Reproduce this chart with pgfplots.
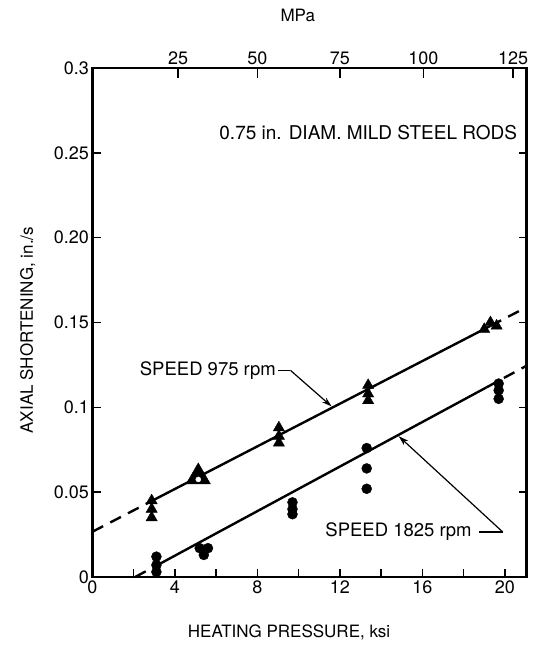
\documentclass[border=0pt]{standalone}
\usepackage{fontspec}
\setmainfont{TeX Gyre Heros}
\usepackage{pgfplots}
\pgfplotsset{compat=1.18}
\usetikzlibrary{arrows.meta}
\begin{document}
\begin{tikzpicture}
\pgfplotsset{every axis/.append style={scale only axis, width=434pt, height=509pt, xmin=0, xmax=21.05, ymin=0, ymax=0.3}}
\path[use as bounding box] (-92.5pt,-71pt) rectangle (440.5pt,577pt);
\begin{axis}[
  axis line style={line width=2.2pt},
  tick align=inside,
  major tick style={line width=1.5pt, black},
  minor tick style={line width=1.5pt, black},
  major tick length=8pt, minor tick length=8pt,
  xtick={0,4,8,12,16,20}, xticklabels={0,4,8,12,16,20},
  minor xtick={2,6,10,14,18},
  xtick pos=bottom,
  ytick={0,0.05,0.1,0.15,0.2,0.25,0.3},
  yticklabels={0,0.05,0.1,0.15,0.20,0.25,0.3},
  ytick pos=both,
  ticklabel style={font=\fontsize{18}{20}\selectfont},
  xlabel={HEATING PRESSURE, ksi},
  ylabel={AXIAL SHORTENING, in./s},
  label style={font=\fontsize{17}{20}\selectfont},
  xlabel style={at={(axis description cs:0.453,-0.108)}, anchor=center},
  ylabel style={at={(axis description cs:-0.149,0.485)}, anchor=center},
  clip=false,
]
% regression lines, 975 rpm
\addplot[black, line width=2.4pt, dash pattern=on 12pt off 8pt] coordinates {(0,0.0267) (2.87,0.0448)};
\addplot[black, line width=2.4pt] coordinates {(2.87,0.0448) (19.3,0.148)};
\addplot[black, line width=2.4pt, dash pattern=on 12pt off 8pt] coordinates {(19.3,0.148) (21.05,0.159)};
% regression lines, 1825 rpm
\addplot[black, line width=2.4pt, dash pattern=on 12pt off 8pt] coordinates {(2.07,0) (3.3,0.008)};
\addplot[black, line width=2.4pt] coordinates {(3.3,0.008) (19.1,0.1117)};
\addplot[black, line width=2.4pt, dash pattern=on 12pt off 8pt] coordinates {(19.1,0.1117) (21.05,0.1245)};
% 975 rpm data
\addplot[only marks, mark=triangle*, mark size=6.5pt, black] coordinates {
(2.87,0.045) (2.87,0.040) (2.87,0.035)
(9.04,0.088) (9.04,0.083) (9.04,0.079)
(13.37,0.113) (13.37,0.108) (13.37,0.104)
(19.0,0.146) (19.3,0.150) (19.6,0.148)
};
\addplot[only marks, mark=triangle*, mark size=14pt, black] coordinates {(5.13,0.059)};
\addplot[only marks, mark=*, mark size=2.5pt, white, draw=white] coordinates {(5.13,0.0575)};
% 1825 rpm data
\addplot[only marks, mark=*, mark size=5pt, black] coordinates {
(3.1,0.012) (3.1,0.007) (3.1,0.003)
(5.2,0.017) (5.6,0.017) (5.4,0.013)
(9.7,0.044) (9.7,0.040) (9.7,0.037)
(13.3,0.076) (13.3,0.064) (13.3,0.052)
(19.7,0.114) (19.7,0.110) (19.7,0.105)
};
% annotations
\node[anchor=east, inner sep=0pt, font=\fontsize{19}{22}\selectfont] at (axis cs:20.6,0.262) {0.75 in. DIAM. MILD STEEL RODS};
\node[anchor=east, inner sep=0pt, font=\fontsize{18.5}{22}\selectfont] at (axis cs:18.4,0.027) {SPEED 1825 rpm};
\draw[line width=1.2pt] (axis cs:18.75,0.0265) -- (axis cs:19.9,0.0265);
\draw[line width=1.2pt, -{Stealth[length=10pt,width=6pt]}] (axis cs:19.9,0.0265) -- (axis cs:14.85,0.083);
\node[anchor=east, inner sep=0pt, font=\fontsize{18.5}{22}\selectfont] at (axis cs:8.9,0.1218) {SPEED 975 rpm};
\draw[line width=1.2pt] (axis cs:9.0,0.1218) -- (axis cs:9.6,0.1218);
\draw[line width=1.2pt, -{Stealth[length=10pt,width=6pt]}] (axis cs:9.6,0.1218) -- (axis cs:11.6,0.1005);
\end{axis}
\begin{axis}[
  axis x line*=top, axis y line=none,
  axis line style={line width=2.2pt},
  tick align=inside,
  major tick length=10pt, major tick style={line width=1.5pt, black},
  xtick={4.15,8,12,16.05,20.4}, xticklabels={25,50,75,100,125},
  ticklabel style={font=\fontsize{18}{20}\selectfont},
  xlabel={MPa},
  label style={font=\fontsize{17}{20}\selectfont},
  xlabel style={at={(axis description cs:0.473,1.104)}, anchor=center},
]
\end{axis}
\end{tikzpicture}
\end{document}
